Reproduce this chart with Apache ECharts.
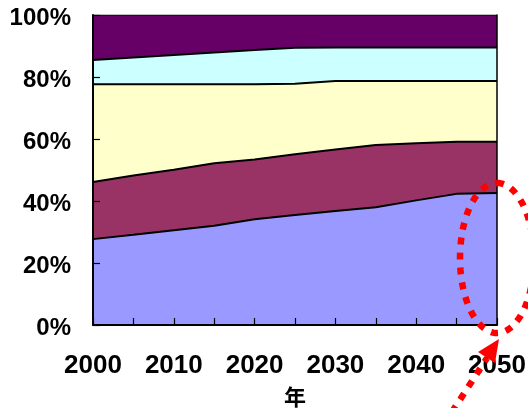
<!DOCTYPE html>
<html>
<head>
<meta charset="utf-8">
<script src="https://cdn.jsdelivr.net/npm/echarts@6/dist/echarts.min.js"></script>
<style>
  html, body { margin: 0; padding: 0; background: #fff; }
  #chart { width: 528px; height: 408px; }
</style>
</head>
<body>
<div id="chart"></div>
<script>
// Years on the horizontal axis (one point every five years)
const years = ['2000', '2005', '2010', '2015', '2020', '2025', '2030', '2035', '2040', '2045', '2050'];

// Share of each band, in percent, stacked bottom to top
const band1 = [27.7, 29.1, 30.6, 32.0, 34.1, 35.5, 36.8, 38.0, 40.2, 42.3, 42.6];
const band2 = [18.4, 19.1, 19.5, 20.2, 19.3, 19.6, 19.8, 20.1, 18.4, 16.8, 16.5];
const band3 = [31.6, 29.5, 27.6, 25.5, 24.3, 22.7, 22.1, 20.6, 20.1, 19.6, 19.6];
const band4 = [7.8, 8.6, 9.4, 10.2, 11.0, 11.6, 10.8, 10.8, 10.8, 10.8, 10.8];
const band5 = [14.5, 13.7, 12.9, 12.1, 11.3, 10.6, 10.5, 10.5, 10.5, 10.5, 10.5];

// Value-axis ticks
const yMin = 0, yMax = 100, yStep = 20;
const xAxisTitle = '年';

const bands = [
  { name: 'band1', data: band1, color: '#9999FF' },
  { name: 'band2', data: band2, color: '#993366' },
  { name: 'band3', data: band3, color: '#FFFFCC' },
  { name: 'band4', data: band4, color: '#CCFFFF' },
  { name: 'band5', data: band5, color: '#660066' }
];

const FONT = '"Liberation Sans", Arial, sans-serif';

// Dotted red ellipse around the last year, traced as a closed polyline
const ell = { cx: 497, cy: 258, rx: 37, ry: 75 };
const ellPts = [];
for (let i = 0; i <= 120; i++) {
  const t = -Math.PI / 2 + (i / 120) * Math.PI * 2;
  ellPts.push([ell.cx + ell.rx * Math.cos(t), ell.cy + ell.ry * Math.sin(t)]);
}

const chart = echarts.init(document.getElementById('chart'), null, { renderer: 'canvas' });

chart.setOption({
  animation: false,
  backgroundColor: '#fff',
  grid: { left: 93, right: 31, top: 15, bottom: 83, containLabel: false, outerBoundsMode: 'none' },
  xAxis: {
    type: 'category',
    data: years,
    boundaryGap: false,
    z: 10,
    axisLine: { show: true, lineStyle: { color: '#000', width: 2 } },
    axisTick: { show: true, inside: true, length: 7, interval: 0, lineStyle: { color: '#000', width: 1.2 } },
    axisLabel: {
      interval: 1,
      margin: 28,
      color: '#000',
      fontFamily: FONT,
      fontWeight: 'bold',
      fontSize: 26
    },
    splitLine: { show: false },
    name: xAxisTitle,
    nameLocation: 'middle',
    nameGap: 61,
    nameTextStyle: {
      color: '#000',
      fontFamily: '"Noto Sans CJK JP", "Noto Sans CJK SC", sans-serif',
      fontWeight: 'bold',
      fontSize: 22
    }
  },
  yAxis: [
    {
      type: 'value',
      min: yMin,
      max: yMax,
      interval: yStep,
      z: 10,
      axisLine: { show: true, lineStyle: { color: '#000', width: 2 } },
      axisTick: { show: true, inside: true, length: 7, lineStyle: { color: '#000', width: 1.2 } },
      axisLabel: {
        formatter: '{value}%',
        margin: 22,
        color: '#000',
        fontFamily: FONT,
        fontWeight: 'bold',
        fontSize: 24,
        verticalAlign: 'top',
        lineHeight: 6
      },
      splitLine: { show: false }
    },
    {
      type: 'value',
      position: 'right',
      min: yMin,
      max: yMax,
      interval: yStep,
      z: 10,
      axisLine: { show: true, lineStyle: { color: '#000', width: 1.5 } },
      axisTick: { show: false },
      axisLabel: { show: false },
      splitLine: { show: false }
    }
  ],
  series: bands.map((b, i) => ({
    name: b.name,
    type: 'line',
    stack: 'total',
    data: b.data,
    yAxisIndex: 0,
    z: 8 - i,
    symbol: 'none',
    smooth: false,
    lineStyle: { color: '#000', width: i === bands.length - 1 ? 1 : 2 },
    areaStyle: { color: b.color, opacity: 1 },
    itemStyle: { color: b.color }
  })),
  graphic: [
    {
      type: 'polyline',
      z: 100,
      shape: { points: ellPts },
      style: { stroke: '#FF0000', lineWidth: 6.5, lineDash: [7, 8], fill: null, lineCap: 'butt' }
    },
    {
      type: 'line',
      z: 100,
      shape: { x1: 452, y1: 412, x2: 487, y2: 358 },
      style: { stroke: '#FF0000', lineWidth: 6.5, lineDash: [7, 8], lineCap: 'butt' }
    },
    {
      type: 'polygon',
      z: 100,
      shape: { points: [[478, 352], [499, 339], [495, 363]] },
      style: { fill: '#FF0000' }
    }
  ]
});
</script>
</body>
</html>
